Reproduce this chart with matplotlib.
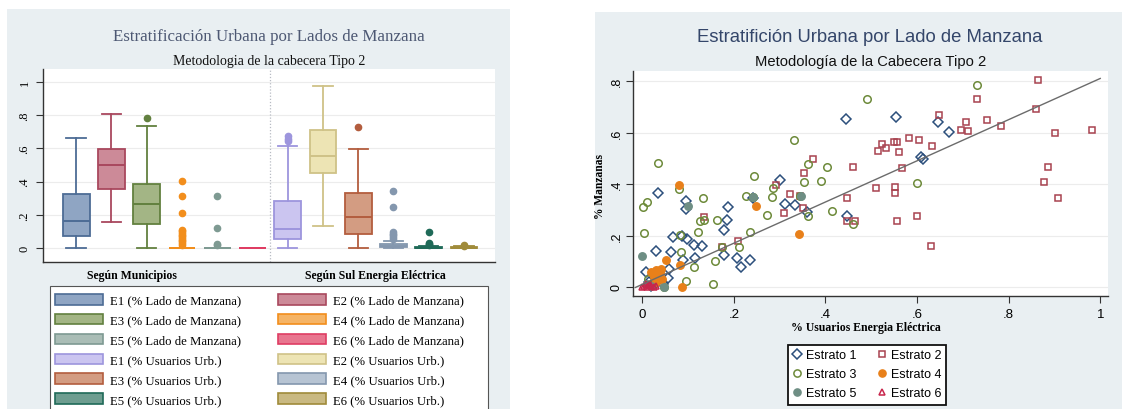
import matplotlib
matplotlib.use("Agg")
import matplotlib.pyplot as plt
import numpy as np
from matplotlib.patches import Patch, Rectangle
from matplotlib.lines import Line2D

W, H = 1133, 410
SERIF = "Liberation Serif"
SANS = "Liberation Sans"

# ---------------- datos: diagramas de caja ----------------
box_labels = ["E1 (% Lado de Manzana)", "E2 (% Lado de Manzana)", "E3 (% Lado de Manzana)",
              "E4 (% Lado de Manzana)", "E5 (% Lado de Manzana)", "E6 (% Lado de Manzana)",
              "E1 (% Usuarios Urb.)", "E2 (% Usuarios Urb.)", "E3 (% Usuarios Urb.)",
              "E4 (% Usuarios Urb.)", "E5 (% Usuarios Urb.)", "E6 (% Usuarios Urb.)"]
box_whislo = [0.0, 0.155, 0.0, 0.0, 0.0, 0.0, 0.002, 0.13, 0.0, 0.0, 0.0, 0.0]
box_q1 = [0.070, 0.353, 0.145, 0.0, 0.0, 0.0, 0.054, 0.452, 0.082, 0.004, 0.0, 0.0]
box_med = [0.163, 0.500, 0.267, 0.0, 0.0, 0.0, 0.112, 0.554, 0.187, 0.010, 0.002, 0.003]
box_q3 = [0.323, 0.596, 0.386, 0.0, 0.0, 0.0, 0.285, 0.709, 0.333, 0.022, 0.005, 0.006]
box_whishi = [0.665, 0.805, 0.735, 0.0, 0.0, 0.0, 0.612, 0.976, 0.596, 0.040, 0.010, 0.010]
box_fliers = [
    [],
    [],
    [0.785],
    [0.02, 0.03, 0.04, 0.05, 0.06, 0.07, 0.08, 0.09, 0.10, 0.11, 0.213, 0.315, 0.402],
    [0.016, 0.022, 0.12, 0.313],
    [],
    [0.645, 0.659, 0.673],
    [],
    [0.729],
    [0.055, 0.066, 0.076, 0.086, 0.096, 0.247, 0.341],
    [0.016, 0.024, 0.030, 0.096],
    [0.012, 0.020],
]
box_edge = ["#4d6c95", "#a9485e", "#62803f", "#f28e1c", "#7e9a92", "#df3d63",
            "#9d95dd", "#cfc287", "#b35d3e", "#8497ae", "#1f6a58", "#a08b3a"]
box_fill = ["#8fa5c3", "#cc8a98", "#a3b585", "#f5b466", "#aabdb6", "#e8768f",
            "#cbc5f0", "#ede4b4", "#d39c82", "#b7c4d3", "#6e9d90", "#c9b982"]
group_names = ["Según Municipios", "Según Sul Energia Eléctrica"]
ticks_box = [0, 0.2, 0.4, 0.6, 0.8, 1.0]
tick_labels_box = ["0", ".2", ".4", ".6", ".8", "1"]

# ---------------- datos: dispersión ----------------
e1_x = [0.445, 0.555, 0.646, 0.669, 0.609, 0.614, 0.301, 0.312, 0.333, 0.359, 0.447, 0.241, 0.188,
        0.186, 0.179, 0.035, 0.095, 0.095, 0.067, 0.086, 0.097, 0.113, 0.130, 0.062, 0.031, 0.115,
        0.090, 0.206, 0.235, 0.216, 0.179, 0.058, 0.056, 0.009, 0.045, 0.030, 0.020, 0.015]
e1_y = [0.652, 0.661, 0.642, 0.603, 0.504, 0.499, 0.417, 0.322, 0.319, 0.290, 0.276, 0.346, 0.309,
        0.261, 0.222, 0.365, 0.335, 0.303, 0.195, 0.199, 0.186, 0.164, 0.158, 0.137, 0.140, 0.111,
        0.106, 0.112, 0.106, 0.076, 0.125, 0.068, 0.036, 0.057, 0.010, 0.015, 0.005, 0.020]
e2_x = [0.865, 0.730, 0.859, 0.648, 0.753, 0.707, 0.695, 0.711, 0.784, 0.983, 0.902, 0.583, 0.604,
        0.550, 0.557, 0.524, 0.532, 0.514, 0.560, 0.632, 0.568, 0.461, 0.373, 0.354, 0.885, 0.878,
        0.908, 0.511, 0.552, 0.552, 0.448, 0.345, 0.322, 0.293, 0.352, 0.310, 0.599, 0.556, 0.447,
        0.464, 0.630, 0.210, 0.134, 0.175]
e2_y = [0.805, 0.730, 0.691, 0.668, 0.649, 0.639, 0.611, 0.607, 0.626, 0.611, 0.598, 0.578, 0.571,
        0.564, 0.564, 0.555, 0.538, 0.527, 0.523, 0.546, 0.461, 0.468, 0.497, 0.441, 0.468, 0.406,
        0.346, 0.384, 0.389, 0.367, 0.345, 0.355, 0.361, 0.396, 0.307, 0.287, 0.276, 0.258, 0.258,
        0.256, 0.160, 0.180, 0.271, 0.155]
e3_x = [0.732, 0.490, 0.331, 0.035, 0.361, 0.404, 0.244, 0.391, 0.354, 0.599, 0.285, 0.283, 0.227,
        0.345, 0.132, 0.011, 0.002, 0.414, 0.363, 0.272, 0.163, 0.126, 0.135, 0.461, 0.235, 0.121,
        0.004, 0.083, 0.085, 0.175, 0.212, 0.113, 0.160, 0.095, 0.154, 0.081, 0.048, 0.013, 0.025,
        0.243]
e3_y = [0.784, 0.730, 0.571, 0.481, 0.477, 0.467, 0.431, 0.413, 0.409, 0.404, 0.385, 0.351, 0.352,
        0.355, 0.344, 0.329, 0.312, 0.296, 0.277, 0.279, 0.260, 0.256, 0.262, 0.246, 0.212, 0.212,
        0.209, 0.202, 0.137, 0.155, 0.155, 0.076, 0.100, 0.024, 0.011, 0.381, 0.0, 0.031, 0.015,
        0.351]
e4_x = [0.081, 0.249, 0.342, 0.053, 0.083, 0.086, 0.020, 0.030, 0.035, 0.042, 0.044, 0.025, 0.038, 0.030]
e4_y = [0.396, 0.313, 0.206, 0.106, 0.086, 0.0, 0.060, 0.065, 0.045, 0.070, 0.030, 0.040, 0.055, 0.020]
e5_x = [0.0, 0.100, 0.243, 0.346, 0.048, 0.010, 0.020]
e5_y = [0.122, 0.316, 0.351, 0.355, 0.0, 0.010, 0.005]
e6_x = [0.0, 0.005, 0.010, 0.015, 0.020, 0.025, 0.030, 0.008, 0.018]
e6_y = [0.0, 0.005, 0.0, 0.008, 0.003, 0.0, 0.005, 0.012, 0.010]
fit_intercept = 0.01
fit_slope = 0.80
fit_range = [-0.015, 1.0]
estrato_names = ["Estrato 1", "Estrato 2", "Estrato 3", "Estrato 4", "Estrato 5", "Estrato 6"]
ticks_x = [0, 0.2, 0.4, 0.6, 0.8, 1.0]
ticks_y = [0, 0.2, 0.4, 0.6, 0.8]
tick_labels_x = ["0", ".2", ".4", ".6", ".8", "1"]
tick_labels_y = ["0", ".2", ".4", ".6", ".8"]

fig = plt.figure(figsize=(W / 100, H / 100), dpi=100)


def px_axes(x0, y0, x1, y1):
    return fig.add_axes([x0 / W, 1 - y1 / H, (x1 - x0) / W, (y1 - y0) / H])


# fondos de los paneles
bg = "#e9eff2"
fig.add_artist(Rectangle((7 / W, 0), (510 - 7) / W, (H - 10) / H, transform=fig.transFigure,
                         facecolor=bg, edgecolor="none", zorder=-5))
fig.add_artist(Rectangle((595 / W, 0), (1122 - 595) / W, (H - 13) / H, transform=fig.transFigure,
                         facecolor=bg, edgecolor="none", zorder=-5))

# ================= panel izquierdo: cajas =================
L0, L1, T0, T1 = 43, 495, 70, 263
ax1 = px_axes(L0, T0, L1, T1)
positions = np.arange(1, len(box_labels) + 1)
for i, pos in enumerate(positions):
    st = dict(med=box_med[i], q1=box_q1[i], q3=box_q3[i], whislo=box_whislo[i],
              whishi=box_whishi[i], fliers=box_fliers[i])
    ec = box_edge[i]
    ax1.bxp([st], positions=[pos], widths=0.76, capwidths=0.55, patch_artist=True,
            boxprops=dict(facecolor=box_fill[i], edgecolor=ec, linewidth=1.3),
            medianprops=dict(color=ec, linewidth=1.4),
            whiskerprops=dict(color=ec, linewidth=1.3),
            capprops=dict(color=ec, linewidth=1.3),
            flierprops=dict(marker="o", markerfacecolor=ec, markeredgecolor=ec, markersize=4.5),
            manage_ticks=False)

ax1.axvline(6.5, color="#b8bcc4", linestyle=(0, (1, 1.5)), linewidth=0.9)
ax1.set_xlim(0.06, 12.88)
ax1.set_ylim(-0.084, 1.078)
ax1.set_xticks([])
ax1.set_yticks(ticks_box)
ax1.set_yticklabels(tick_labels_box, rotation=90, va="center", family=SERIF, fontsize=9)
ax1.tick_params(axis="y", length=5, width=0.8, pad=4, color="#333333")
ax1.grid(axis="y", color="#ececec", linewidth=0.8)
ax1.set_axisbelow(True)
for s in ["top", "right"]:
    ax1.spines[s].set_visible(False)
for s in ["left", "bottom"]:
    ax1.spines[s].set_color("#333333")
    ax1.spines[s].set_linewidth(1.0)

lw_ax = L1 - L0
lh_ax = T1 - T0
ax1.text((132 - L0) / lw_ax, (T1 - 276) / lh_ax, group_names[0], transform=ax1.transAxes,
         ha="center", va="center", family=SERIF, fontweight="bold", fontsize=8.5)
ax1.text((375 - L0) / lw_ax, (T1 - 276) / lh_ax, group_names[1], transform=ax1.transAxes,
         ha="center", va="center", family=SERIF, fontweight="bold", fontsize=8.5)

fig.text(269 / W, 1 - 37 / H, "Estratificación Urbana por Lados de Manzana", ha="center",
         va="center", family=SERIF, fontsize=12.2, color="#4d5873")
fig.text(269 / W, 1 - 61 / H, "Metodologia de la cabecera Tipo 2", ha="center", va="center",
         family=SERIF, fontsize=10, color="#111111")

# leyenda (orden por columnas para que las filas queden como en el original)
order = [0, 2, 4, 6, 8, 10, 1, 3, 5, 7, 9, 11]
handles = [Patch(facecolor=box_fill[i], edgecolor=box_edge[i], linewidth=1.2) for i in order]
labels = [box_labels[i] for i in order]
leg1 = fig.legend(handles, labels, ncol=2, loc="upper left",
                  bbox_to_anchor=(55 / W, 1 - 295 / H), bbox_transform=fig.transFigure,
                  frameon=False, borderpad=0, borderaxespad=0,
                  handlelength=3.75, handleheight=0.9, handletextpad=0.55,
                  columnspacing=2.9, labelspacing=0.56,
                  prop=dict(family=SERIF, size=9.2))
fig.add_artist(Rectangle((50 / W, -0.05), (488 - 50) / W, (H - 287) / H + 0.05,
                         transform=fig.transFigure, facecolor="white", edgecolor="#555555",
                         linewidth=0.8, zorder=-1))

# ================= panel derecho: dispersión =================
R0, R1, S0, S1 = 633, 1108, 72, 297
ax2 = px_axes(R0, S0, R1, S1)
mk = dict(linestyle="none", markersize=4.8, markeredgewidth=1.1)
ax2.plot(e1_x, e1_y, marker="D", markerfacecolor="none", markeredgecolor="#2c4f7c", **mk)
ax2.plot(e2_x, e2_y, marker="s", markerfacecolor="none", markeredgecolor="#a8424f", **mk)
ax2.plot(e3_x, e3_y, marker="o", markerfacecolor="none", markeredgecolor="#6d8a3a",
         linestyle="none", markersize=5.4, markeredgewidth=1.1)
ax2.plot(e4_x, e4_y, marker="o", markerfacecolor="#e8801a", markeredgecolor="#e8801a",
         linestyle="none", markersize=5.4)
ax2.plot(e5_x, e5_y, marker="o", markerfacecolor="#6e8e84", markeredgecolor="#6e8e84",
         linestyle="none", markersize=5.4)
ax2.plot(e6_x, e6_y, marker="^", markerfacecolor="none", markeredgecolor="#c8264c", **mk)
fx = np.array(fit_range)
ax2.plot(fx, fit_intercept + fit_slope * fx, color="#6b6b6b", linewidth=1.0)

ax2.set_xlim(-0.020, 1.017)
ax2.set_ylim(-0.035, 0.839)
ax2.set_xticks(ticks_x)
ax2.set_xticklabels(tick_labels_x, family=SANS, fontsize=9.5)
ax2.set_yticks(ticks_y)
ax2.set_yticklabels(tick_labels_y, rotation=90, va="center", family=SANS, fontsize=9)
ax2.tick_params(axis="x", length=5, width=0.8, pad=4, color="#333333")
ax2.tick_params(axis="y", length=5, width=0.8, pad=2.5, color="#333333")
ax2.grid(axis="y", color="#ececec", linewidth=0.8)
ax2.set_axisbelow(True)
for s in ["top", "right"]:
    ax2.spines[s].set_visible(False)
for s in ["left", "bottom"]:
    ax2.spines[s].set_color("#333333")
    ax2.spines[s].set_linewidth(1.0)
rw_ax = R1 - R0
rh_ax = S1 - S0
ax2.set_xlabel("% Usuarios Energia Eléctrica", family=SERIF, fontweight="bold", fontsize=8.5,
               va="center")
ax2.xaxis.set_label_coords((866 - R0) / rw_ax, (S1 - 328) / rh_ax)
ax2.set_ylabel("% Manzanas", family=SERIF, fontweight="bold", fontsize=8.3, va="center")
ax2.yaxis.set_label_coords((600 - R0) / rw_ax, (S1 - 187) / rh_ax)

fig.text(870 / W, 1 - 38 / H, "Estratifición Urbana por Lado de Manzana", ha="center",
         va="center", family=SANS, fontsize=13.3, color="#34466a")
fig.text(871 / W, 1 - 62 / H, "Metodología de la Cabecera Tipo 2", ha="center", va="center",
         family=SANS, fontsize=10.6, color="#111111")

leg_handles = [
    Line2D([], [], marker="D", linestyle="none", markerfacecolor="none", markeredgecolor="#2c4f7c",
           markersize=4.6, markeredgewidth=1.1),
    Line2D([], [], marker="s", linestyle="none", markerfacecolor="none", markeredgecolor="#a8424f",
           markersize=4.6, markeredgewidth=1.1),
    Line2D([], [], marker="o", linestyle="none", markerfacecolor="none", markeredgecolor="#6d8a3a",
           markersize=5.2, markeredgewidth=1.1),
    Line2D([], [], marker="o", linestyle="none", markerfacecolor="#e8801a", markeredgecolor="#e8801a",
           markersize=5.2),
    Line2D([], [], marker="o", linestyle="none", markerfacecolor="#6e8e84", markeredgecolor="#6e8e84",
           markersize=5.2),
    Line2D([], [], marker="^", linestyle="none", markerfacecolor="none", markeredgecolor="#c8264c",
           markersize=4.6, markeredgewidth=1.1),
]
lorder = [0, 2, 4, 1, 3, 5]
leg2 = fig.legend([leg_handles[i] for i in lorder], [estrato_names[i] for i in lorder], ncol=2,
                  loc="center", bbox_to_anchor=(867 / W, 1 - 375.5 / H),
                  bbox_transform=fig.transFigure, frameon=True, fancybox=False,
                  edgecolor="#111111", facecolor="white", framealpha=1,
                  borderpad=0.4, handlelength=0.7, handletextpad=0.35, columnspacing=1.7,
                  labelspacing=0.56, prop=dict(family=SANS, size=9))
leg2.get_frame().set_linewidth(1.3)

fig.savefig("out.png", dpi=100)
